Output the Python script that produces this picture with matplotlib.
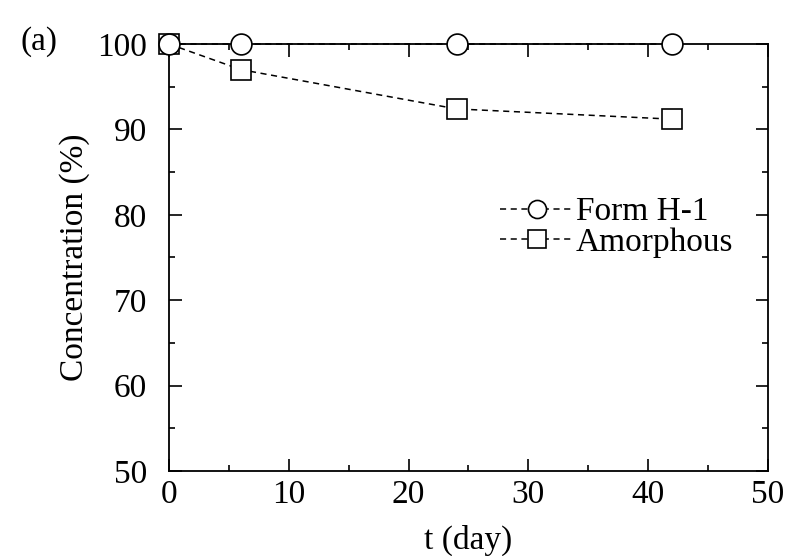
import numpy as np
import matplotlib.pyplot as plt
from matplotlib.ticker import MultipleLocator
from matplotlib.legend_handler import HandlerLine2D

plt.rcParams['font.family'] = ['Liberation Serif', 'DejaVu Serif']

t_days = [0, 6, 24, 42]
form_h1 = [100, 100, 100, 100]
amorphous = [100, 97.0, 92.4, 91.2]


class OffsetMarkerHandler(HandlerLine2D):
    # marker sits left of centre on the dashed legend line
    def get_xdata(self, legend, xdescent, ydescent, width, height, fontsize):
        xdata = np.array([-xdescent, -xdescent + width])
        return xdata, np.array([-xdescent + 0.34 * width])


fig = plt.figure(figsize=(7.92, 5.56), dpi=100)
ax = fig.add_axes([169/792, 1 - 471/556, (768-169)/792, (471-44)/556])

ax.plot(t_days, form_h1, ls=(0, (4, 3)), color='black', lw=1.1,
        marker='o', ms=15, mfc='white', mec='black', mew=1.2,
        label='Form H-1', clip_on=False, zorder=5)
ax.plot(t_days, amorphous, ls=(0, (4, 3)), color='black', lw=1.1,
        marker='s', ms=15, mfc='white', mec='black', mew=1.2,
        label='Amorphous', clip_on=False, zorder=4)

ax.set_xlim(0, 50)
ax.set_ylim(50, 100)
ax.xaxis.set_major_locator(MultipleLocator(10))
ax.xaxis.set_minor_locator(MultipleLocator(5))
ax.yaxis.set_major_locator(MultipleLocator(10))
ax.yaxis.set_minor_locator(MultipleLocator(5))
ax.tick_params(which='both', direction='in', top=True, right=True, width=1.2)
ax.tick_params(which='major', length=9, labelsize=24)
ax.tick_params(which='minor', length=4.5)
ax.tick_params(axis='x', which='major', pad=6)
ax.tick_params(axis='y', which='major', pad=16)
for s in ax.spines.values():
    s.set_linewidth(1.3)

ax.set_xlabel('t (day)', fontsize=24, labelpad=11)
ax.set_ylabel('Concentration (%)', fontsize=24, labelpad=5)

leg = ax.legend(loc='upper left', bbox_to_anchor=((500-169)/599, 1 - (197-44)/427),
                frameon=False, fontsize=24, handlelength=2.2, handletextpad=0.08,
                labelspacing=0.0, borderaxespad=0, borderpad=0, numpoints=1,
                handler_map={plt.Line2D: OffsetMarkerHandler()})
for h in leg.legend_handles:
    h.set_markersize(13)

fig.text(20/792, 1 - 42/556, '(a)', fontsize=24, va='center', ha='left')

fig.savefig('out.png', dpi=100)
